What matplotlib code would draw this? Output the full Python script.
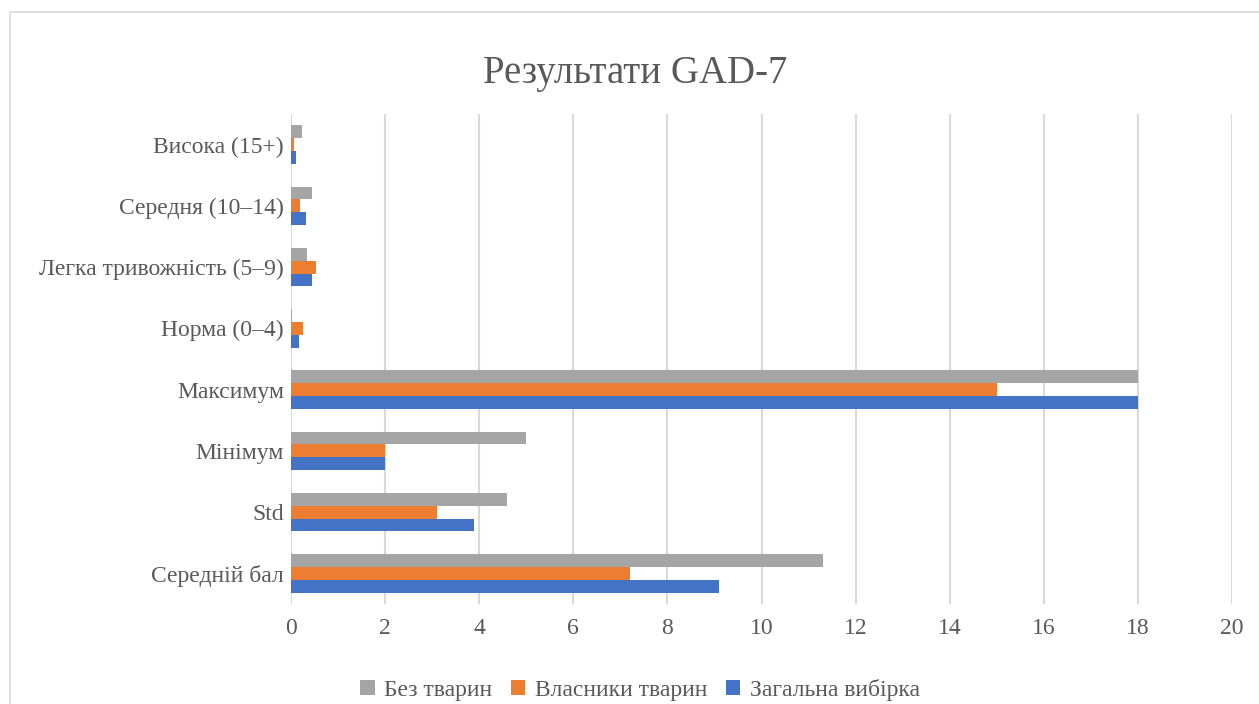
import matplotlib
matplotlib.use("Agg")
import matplotlib.pyplot as plt
import numpy as np
from matplotlib.patches import Rectangle

categories = ["Середній бал", "Std", "Мінімум", "Максимум",
              "Норма (0–4)", "Легка тривожність (5–9)", "Середня (10–14)", "Висока (15+)"]
series_names = ["Загальна вибірка", "Власники тварин", "Без тварин"]
general = [9.1, 3.9, 2, 18, 0.17, 0.45, 0.32, 0.10]
owners = [7.2, 3.1, 2, 15, 0.25, 0.53, 0.19, 0.06]
no_pets = [11.3, 4.6, 5, 18, 0.02, 0.34, 0.45, 0.23]
colors = ["#4472C4", "#ED7D31", "#A5A5A5"]
xticks = [0, 2, 4, 6, 8, 10, 12, 14, 16, 18, 20]

plt.rcParams['font.family'] = ['Liberation Serif', 'DejaVu Serif']
W, H = 1259, 704
fig = plt.figure(figsize=(W / 100, H / 100), dpi=100)

# chart border
fig.patches.append(Rectangle((10 / W, -0.05), 1.2, 1 - 12 / H + 0.05,
                             transform=fig.transFigure, fill=False,
                             edgecolor="#D9D9D9", linewidth=1.2))

ax = fig.add_axes([291 / W, 1 - 604 / H, (1232 - 291) / W, (604 - 114) / H])
y = np.arange(len(categories))
h = 0.21
for i, (vals, c) in enumerate(zip([general, owners, no_pets], colors)):
    ax.barh(y + (i - 1) * h, vals, height=h, color=c, label=series_names[i], zorder=3)

ax.set_xlim(0, 20)
ax.set_ylim(-0.5, len(categories) - 0.5)
ax.set_xticks(xticks)
ax.set_yticks(y)
ax.set_yticklabels(categories)
ax.tick_params(axis='both', length=0, labelsize=17, colors="#595959")
ax.tick_params(axis='x', pad=10)
ax.tick_params(axis='y', pad=5)
ax.grid(axis='x', color="#D9D9D9", linewidth=1.5, zorder=0)
for s in ax.spines.values():
    s.set_visible(False)

fig.text(635 / W, 1 - 74 / H, "Результати GAD-7", ha='center', va='center',
         fontsize=28, color="#595959")

handles, labels = ax.get_legend_handles_labels()
order = [2, 1, 0]
fig.legend([handles[i] for i in order], [labels[i] for i in order],
           loc='center', bbox_to_anchor=(640 / W, 1 - 690 / H), ncol=3,
           frameon=False, fontsize=17, labelcolor="#595959",
           handlelength=0.6, handleheight=0.6, handletextpad=0.4, columnspacing=0.8)

fig.savefig("out.png", dpi=100, facecolor="white")
